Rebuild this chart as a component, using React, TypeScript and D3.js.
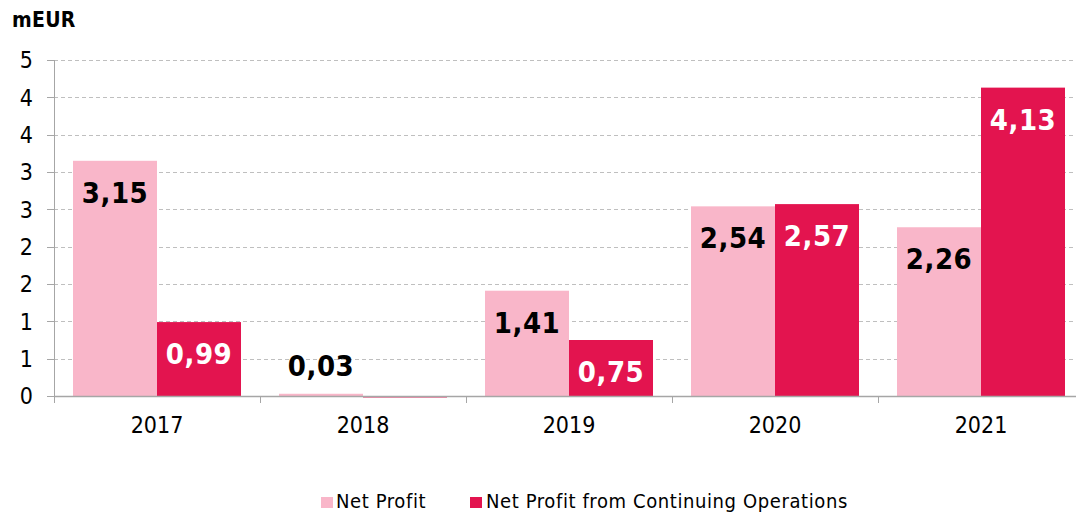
import React from "react";
import * as d3 from "d3";

const years = ["2017", "2018", "2019", "2020", "2021"];
const seriesNames = ["Net Profit", "Net Profit from Continuing Operations"];
const netProfit = [3.15, 0.03, 1.41, 2.54, 2.26];
const netProfitCont = [0.99, -0.02, 0.75, 2.57, 4.13];
const showLabelCont = [true, false, true, true, true];
const yTickValues = [0, 0.5, 1, 1.5, 2, 2.5, 3, 3.5, 4, 4.5];
const yTickLabels = ["0", "1", "1", "2", "2", "3", "3", "4", "4", "5"];
const colors = ["#F9B6C9", "#E3144F"];
const labelColors = ["#000000", "#FFFFFF"];

const W = 1076;
const H = 512;
const FONT = "'DejaVu Sans Condensed', 'DejaVu Sans', sans-serif";

export default function App() {
  const y = d3.scaleLinear().domain([0, 4.5]).range([396, 60]);
  const x = d3.scaleBand().domain(years).range([54, 1084]).padding(0);
  const inner = d3
    .scaleBand()
    .domain(seriesNames)
    .range([19, x.bandwidth() - 19])
    .padding(0);
  const fmt = (v: number) => d3.format(".2f")(v).replace(".", ",");
  const series = [netProfit, netProfitCont];
  const [x0, x1] = x.range();

  return (
    <div style={{ position: "absolute", left: 0, top: 0 }}>
      <svg width={W} height={H} style={{ display: "block", background: "#fff" }}>
        <text x={12} y={27} fontFamily={FONT} fontWeight="bold" fontSize={21} letterSpacing={0.3} fill="#000">
          mEUR
        </text>
        {/* gridlines */}
        {yTickValues.slice(1).map((v) => (
          <line
            key={"g" + v}
            x1={x0}
            x2={x1}
            y1={Math.round(y(v)) + 0.5}
            y2={Math.round(y(v)) + 0.5}
            stroke="#BFBFBF"
            strokeDasharray="4,3"
            strokeWidth={1}
          />
        ))}
        {/* bars */}
        {series.map((vals, si) =>
          years.map((yr, i) => {
            const v = vals[i];
            const top = y(Math.max(0, v));
            const bot = y(Math.min(0, v));
            return (
              <rect
                key={si + "-" + yr}
                x={(x(yr) as number) + (inner(seriesNames[si]) as number)}
                y={top}
                width={inner.bandwidth()}
                height={Math.max(bot - top, 1)}
                fill={colors[si]}
              />
            );
          })
        )}
        {/* y axis */}
        <line x1={54.5} x2={54.5} y1={60} y2={396} stroke="#A6A6A6" strokeWidth={1} />
        {yTickValues.map((v, i) => (
          <g key={"yt" + v}>
            <line x1={47} x2={54} y1={Math.round(y(v)) + 0.5} y2={Math.round(y(v)) + 0.5} stroke="#A6A6A6" />
            <text
              x={33}
              y={y(v)}
              dy="0.36em"
              textAnchor="end"
              fontFamily={FONT}
              fontSize={23}
              fill="#000"
            >
              {yTickLabels[i]}
            </text>
          </g>
        ))}
        {/* x axis */}
        <line x1={x0} x2={x1} y1={396.5} y2={396.5} stroke="#A6A6A6" strokeWidth={1.5} />
        {years.map((yr) => (
          <line
            key={"xt" + yr}
            x1={Math.round(x(yr) as number) + 0.5}
            x2={Math.round(x(yr) as number) + 0.5}
            y1={396}
            y2={403}
            stroke="#A6A6A6"
          />
        ))}
        {years.map((yr) => (
          <text
            key={"xl" + yr}
            x={(x(yr) as number) + x.bandwidth() / 2}
            y={433}
            textAnchor="middle"
            fontFamily={FONT}
            fontSize={23}
            fill="#000"
          >
            {yr}
          </text>
        ))}
        {/* value labels */}
        {series.map((vals, si) =>
          years.map((yr, i) => {
            const v = vals[i];
            if (si === 1 && !showLabelCont[i]) return null;
            const top = y(Math.max(0, v));
            const h = y(0) - top;
            const inside = h > 50;
            const cx =
              (x(yr) as number) + (inner(seriesNames[si]) as number) + inner.bandwidth() / 2;
            return (
              <text
                key={"vl" + si + yr}
                x={cx}
                y={inside ? top + 42 : top - 18}
                textAnchor="middle"
                fontFamily={FONT}
                fontWeight="bold"
                fontSize={29}
                letterSpacing={0.5}
                fill={inside ? labelColors[si] : "#000"}
              >
                {fmt(v)}
              </text>
            );
          })
        )}
        {/* legend */}
        <rect x={321} y={497} width={12} height={11} fill={colors[0]} />
        <text x={336} y={508} fontFamily={FONT} fontSize={20} letterSpacing={0.6} fill="#000">
          {seriesNames[0]}
        </text>
        <rect x={470} y={497} width={12} height={11} fill={colors[1]} />
        <text x={486} y={508} fontFamily={FONT} fontSize={20} letterSpacing={0.6} fill="#000">
          {seriesNames[1]}
        </text>
      </svg>
    </div>
  );
}
